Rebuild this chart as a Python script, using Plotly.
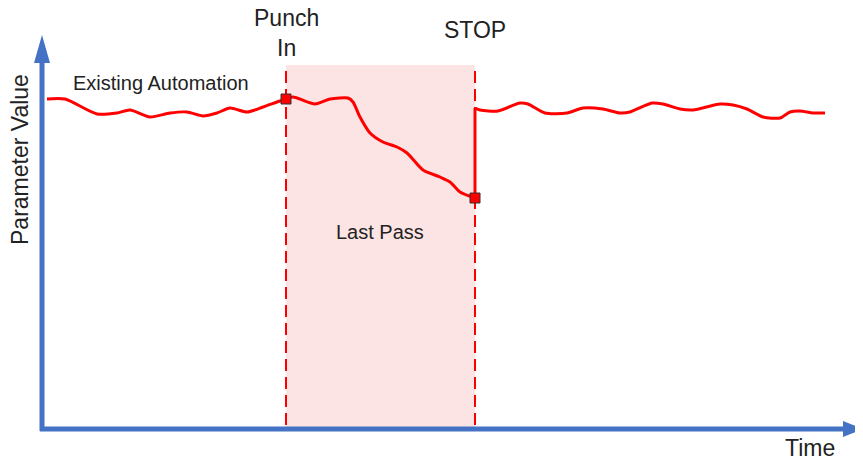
import plotly.graph_objects as go

# automation curve, time vs parameter value (arbitrary units)
existing_t = [5, 23, 55, 75, 88, 108, 128, 145, 161, 175, 188, 205, 221, 235, 244]
existing_v = [330, 330, 315, 316, 319, 312, 316, 317, 313, 316, 321, 317, 322, 327, 330]

last_pass_t = [244, 251, 273, 288, 306, 311, 318, 328, 341, 355, 365, 381, 398, 408, 418, 433]
last_pass_v = [330, 332, 325, 330, 331, 327, 312, 296, 287, 282, 276, 259, 252, 247, 237, 231]

after_t = [433, 438, 456, 478, 486, 503, 525, 541, 561, 578, 588, 610, 621, 638, 651,
           678, 691, 705, 721, 738, 748, 758, 771, 783]
after_v = [321, 319, 318, 326, 325, 316, 316, 321, 320, 316, 317, 326, 325, 320, 319,
           325, 324, 320, 312, 311, 317, 318, 316, 316]

PUNCH_IN = 244
STOP = 433
REGION_TOP = 364
T_MAX = 821
V_MAX = 394

RED = "#ff0000"
BLUE = "#4472c4"
TXT = "#222222"

fig = go.Figure()

line = dict(color=RED, width=3, shape="spline", smoothing=0.7)
fig.add_trace(go.Scatter(x=existing_t + last_pass_t[1:], y=existing_v + last_pass_v[1:],
                         mode="lines", line=line, hoverinfo="skip"))
fig.add_trace(go.Scatter(x=[STOP, STOP], y=[last_pass_v[-1], after_v[0]],
                         mode="lines", line=dict(color=RED, width=3), hoverinfo="skip"))
fig.add_trace(go.Scatter(x=after_t, y=after_v, mode="lines", line=line, hoverinfo="skip"))
fig.add_trace(go.Scatter(x=[PUNCH_IN, STOP], y=[existing_v[-1], last_pass_v[-1]],
                         mode="markers",
                         marker=dict(symbol="square", size=10, color=RED,
                                     line=dict(color="#333333", width=1)),
                         hoverinfo="skip"))

# shaded last pass region
fig.add_shape(type="rect", x0=PUNCH_IN, x1=STOP, y0=0, y1=REGION_TOP,
              fillcolor="#fde4e4", line_width=0, layer="below")
for xv in (PUNCH_IN, STOP):
    fig.add_shape(type="line", x0=xv, x1=xv, y0=4, y1=REGION_TOP,
                  line=dict(color=RED, width=2, dash="12px,6px"), layer="below")

# axes with arrow heads
fig.add_shape(type="line", x0=0, x1=0, y0=-2, y1=V_MAX - 26, line=dict(color=BLUE, width=5))
fig.add_shape(type="line", x0=-2, x1=T_MAX - 16, y0=0, y1=0, line=dict(color=BLUE, width=5))
fig.add_shape(type="path", path=f"M -8,{V_MAX - 28} L 8,{V_MAX - 28} L 0,{V_MAX} Z",
              fillcolor=BLUE, line_width=0)
fig.add_shape(type="path", path=f"M {T_MAX - 20},-8 L {T_MAX - 20},8 L {T_MAX},0 Z",
              fillcolor=BLUE, line_width=0)

big = dict(family="Liberation Sans, Arial", size=23, color=TXT)
small = dict(family="Liberation Sans, Arial", size=20, color=TXT)
fig.add_annotation(x=PUNCH_IN, y=396, text="Punch<br>In", showarrow=False, font=big,
                   borderpad=0)
fig.add_annotation(x=STOP, y=399, text="STOP", showarrow=False, font=big)
fig.add_annotation(x=119, y=346, text="Existing Automation", showarrow=False, font=small)
fig.add_annotation(x=338, y=197, text="Last Pass", showarrow=False, font=small)
fig.add_annotation(x=768, y=-19, text="Time", showarrow=False, font=big)
fig.add_annotation(x=-22, y=269, text="Parameter Value", showarrow=False, font=big,
                   textangle=-90)

# page body has an 8px margin, so the figure starts 8px in from the corner
fig.update_xaxes(range=[-34, 821], visible=False)
fig.update_yaxes(range=[-32, 421], visible=False)
fig.update_layout(width=855, height=453, margin=dict(l=0, r=0, t=0, b=0),
                  paper_bgcolor="white", plot_bgcolor="white", showlegend=False)

fig.write_html("out.html")
